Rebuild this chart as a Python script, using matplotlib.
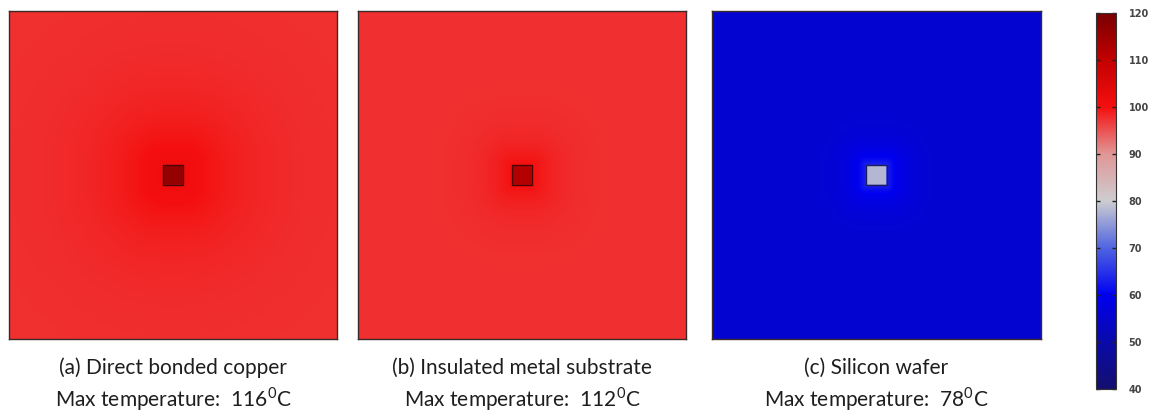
import numpy as np
import matplotlib
matplotlib.use("Agg")
import matplotlib.pyplot as plt
from matplotlib.colors import LinearSegmentedColormap
from matplotlib.patches import Rectangle

# Substrate cases and simulated temperatures (deg C)
panel_titles = ["(a) Direct bonded copper",
                "(b) Insulated metal substrate",
                "(c) Silicon wafer"]
max_temps = [116, 112, 78]
ambient_temps = [97.5, 97.5, 55.5]
spread_rise = [3.5, 2.5, 8]
spread_length = [0.16, 0.07, 0.045]

cbar_ticks = [40, 50, 60, 70, 80, 90, 100, 110, 120]
t_min, t_max = 40, 120

# Blue-white-red thermal colour map
cmap_stops = [40, 50, 60, 70, 80, 90, 100, 110, 120]
cmap_rgb = [(20, 15, 110), (10, 10, 170), (0, 0, 240), (80, 100, 225),
            (205, 205, 208), (225, 150, 150), (245, 15, 15),
            (195, 0, 0), (120, 0, 0)]
cmap = LinearSegmentedColormap.from_list(
    "thermal",
    [((v - t_min) / (t_max - t_min), tuple(c / 255 for c in rgb))
     for v, rgb in zip(cmap_stops, cmap_rgb)], N=4096)

plt.rcParams["mathtext.fontset"] = "custom"
plt.rcParams["mathtext.rm"] = "Lato"

W, H = 1150, 412
fig = plt.figure(figsize=(W / 100, H / 100), dpi=100)

panel_px = [(9, 11, 328, 328), (358, 11, 328, 328), (712, 11, 329, 328)]
chip_half = 0.031

n = 500
xs = np.linspace(0, 1, n)
X, Y = np.meshgrid(xs, xs)
dx = np.maximum(np.abs(X - 0.5) - chip_half, 0)
dy = np.maximum(np.abs(Y - 0.5) - chip_half, 0)
dist = np.hypot(dx, dy)
inside = (dx == 0) & (dy == 0)

chip_edges = ["#4a0505", "#4a0505", "#1c1c5a"]

for i, (px, py, pw, ph) in enumerate(panel_px):
    ax = fig.add_axes([px / W, 1 - (py + ph) / H, pw / W, ph / H])
    field = ambient_temps[i] + spread_rise[i] * np.exp(-dist / spread_length[i])
    field[inside] = max_temps[i]
    ax.imshow(field, cmap=cmap, vmin=t_min, vmax=t_max, extent=[0, 1, 0, 1],
              origin="lower", interpolation="bilinear", aspect="auto")
    ax.add_patch(Rectangle((0.5 - chip_half, 0.5 - chip_half), 2 * chip_half,
                           2 * chip_half, fill=False, lw=1.0,
                           ec=chip_edges[i]))
    ax.set_xlim(0, 1)
    ax.set_ylim(0, 1)
    ax.set_xticks([])
    ax.set_yticks([])
    for s in ax.spines.values():
        s.set_color("#3a2a2a")
        s.set_linewidth(1.0)
    cx = (px + pw / 2) / W
    fig.text(cx, 1 - 368 / H, panel_titles[i], ha="center", va="center",
             fontsize=15, family="Lato", color="#1e1e1e")
    fig.text(cx, 1 - 399 / H,
             "Max temperature:  " + str(max_temps[i]) + r"$^{\mathrm{0}}$C",
             ha="center", va="center", fontsize=15, family="Lato",
             color="#1e1e1e")

# Colour bar
cax = fig.add_axes([1096 / W, 1 - 389 / H, 20 / W, 376 / H])
sm = matplotlib.cm.ScalarMappable(cmap=cmap,
                                  norm=matplotlib.colors.Normalize(t_min, t_max))
cb = fig.colorbar(sm, cax=cax, ticks=cbar_ticks)
cb.outline.set_edgecolor("#333333")
cb.outline.set_linewidth(0.8)
cax.tick_params(direction="in", left=True, right=True, length=3, width=1,
                color="#222222", pad=9, labelsize=7, labelcolor="#444444")
for lab in cax.get_yticklabels():
    lab.set_fontweight("bold")
    lab.set_family("DejaVu Sans")

fig.savefig("out.png", dpi=100)
